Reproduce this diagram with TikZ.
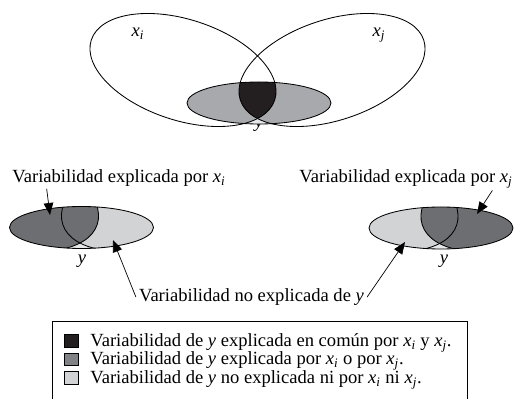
\documentclass[tikz,border=0pt]{standalone}
\usepackage{fontspec}
\setmainfont{Liberation Serif}
\usetikzlibrary{arrows.meta}

\definecolor{gblack}{HTML}{231F20}
\definecolor{gmid}{HTML}{A7A9AC}
\definecolor{gdark}{HTML}{6D6E71}
\definecolor{gsq}{HTML}{808285}
\definecolor{glight}{HTML}{D1D3D4}
\definecolor{gpale}{HTML}{E6E7E8}

\newcommand{\lblfont}{\fontsize{13.2pt}{13pt}\selectfont}
\newcommand{\vx}[1]{\textit{x}\textsubscript{\textit{#1}}}
\newcommand{\vy}{\textit{y}}

\begin{document}
\begin{tikzpicture}[
    x=0.025cm, y=-0.025cm,
    line width=0.6pt,
    bigell/.style={x radius=96.5, y radius=50.4},
    yell/.style={x radius=72, y radius=21},
    rotI/.style={rotate around={-18.1:(183,70)}},
    rotJ/.style={rotate around={18.1:(332,70)}},
    lbl/.style={font=\lblfont, inner sep=1pt, anchor=base},
    sq/.style={draw, line width=0.5pt, minimum width=10pt, minimum height=9pt, inner sep=0pt},
    arr/.style={-{Triangle[length=3mm, width=2.4mm]}, line width=0.5pt},
  ]
  \useasboundingbox (0,0) rectangle (514,399);

  % y shared by x_i and x_j
  \node[lbl] (yc) at (259,128) {\vy};
  \fill[white, rotI] (183,70) ellipse [bigell];
  \fill[white, rotJ] (332,70) ellipse [bigell];
  \fill[gpale] (259,103) ellipse [yell];
  \begin{scope}
    \clip (259,103) ellipse [yell];
    \fill[gmid, rotI] (183,70) ellipse [bigell];
    \fill[gmid, rotJ] (332,70) ellipse [bigell];
    \clip[rotI] (183,70) ellipse [bigell];
    \fill[gblack, rotJ] (332,70) ellipse [bigell];
  \end{scope}
  \draw (259,103) ellipse [yell];
  \draw[rotI] (183,70) ellipse [bigell];
  \draw[rotJ] (332,70) ellipse [bigell];
  \node[lbl] (ti) at (138,36.5) {\vx{i}};
  \node[lbl] (tj) at (379,36.5) {\vx{j}};

  % part explained by x_i
  \begin{scope}[shift={(-177.5,124.5)}]
    \fill[gpale] (259,103) ellipse [yell];
    \begin{scope}
      \clip (259,103) ellipse [yell];
      \fill[glight, rotJ] (332,70) ellipse [bigell];
      \fill[gdark, rotI] (183,70) ellipse [bigell];
      \draw[rotI] (183,70) ellipse [bigell];
      \draw[rotJ] (332,70) ellipse [bigell];
    \end{scope}
    \draw (259,103) ellipse [yell];
  \end{scope}

  % part explained by x_j
  \begin{scope}[shift={(182,125)}]
    \fill[gpale] (259,103) ellipse [yell];
    \begin{scope}
      \clip (259,103) ellipse [yell];
      \fill[glight, rotI] (183,70) ellipse [bigell];
      \fill[gdark, rotJ] (332,70) ellipse [bigell];
      \draw[rotI] (183,70) ellipse [bigell];
      \draw[rotJ] (332,70) ellipse [bigell];
    \end{scope}
    \draw (259,103) ellipse [yell];
  \end{scope}

  \node[lbl] (yl) at (82,264) {\vy};
  \node[lbl] (yr) at (444,264) {\vy};
  \node[lbl] (expI) at (119,183) {Variabilidad explicada por \vx{i}};
  \node[lbl] (expJ) at (406,183) {Variabilidad explicada por \vx{j}};
  \node[lbl, inner sep=2pt] (noexp) at (251.5,301.5) {Variabilidad no explicada de \vy};

  \coordinate (tipI) at (50,215);
  \coordinate (tipJ) at (477,214);
  \coordinate (tipL) at (113,240);
  \coordinate (tipR) at (405,242);
  \draw[arr] ([xshift=25.6pt]expI.south west) -- (tipI);
  \draw[arr] ([xshift=-15.6pt]expJ.south east) -- (tipJ);
  \draw[arr] (noexp.west) -- (tipL);
  \draw[arr] (noexp.east) -- (tipR);

  % legend
  \draw[line width=0.5pt] (52,321) rectangle (467,405);
  \node[sq, fill=gblack] (s1) at (71.5,341) {};
  \node[sq, fill=gsq] (s2) at (71.5,359.5) {};
  \node[sq, fill=glight] (s3) at (71.5,378) {};
  \node[lbl, anchor=base west, inner sep=0pt] (t1) at (90,346.5)
    {Variabilidad de \vy{} explicada en común por \vx{i} y \vx{j}.};
  \node[lbl, anchor=base west, inner sep=0pt] (t2) at (90,365)
    {Variabilidad de \vy{} explicada por \vx{i} o por \vx{j}.};
  \node[lbl, anchor=base west, inner sep=0pt] (t3) at (90,383.5)
    {Variabilidad de \vy{} no explicada ni por \vx{i} ni \vx{j}.};
\end{tikzpicture}
\end{document}
